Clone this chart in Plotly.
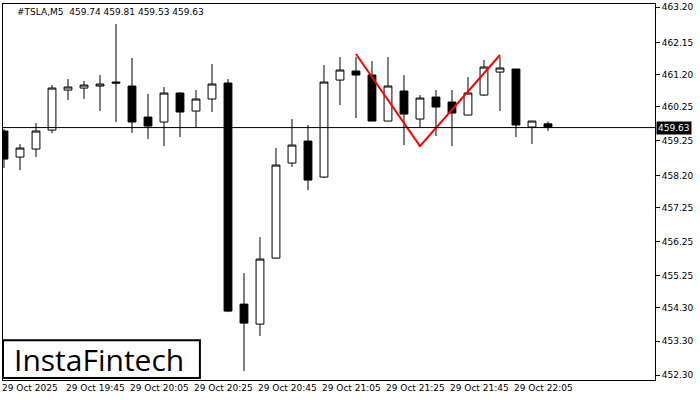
import plotly.graph_objects as go

opens  = [459.527,458.757,458.994,459.556,460.741,460.800,460.860,460.978,460.860,459.941,459.793,460.652,460.119,460.475,460.949,454.402,453.810,455.765,458.579,459.230,458.164,461.037,461.304,461.186,459.823,460.712,459.882,460.534,460.386,460.001,460.593,461.274,461.363,459.645,459.74]
highs  = [459.586,459.142,459.764,460.889,461.067,461.008,461.186,462.696,461.689,460.623,460.830,460.682,460.741,461.511,461.067,455.320,456.387,459.023,459.882,459.705,461.482,461.719,461.719,461.600,461.719,461.186,460.593,460.741,460.741,461.126,461.630,461.719,461.363,459.823,459.81]
lows   = [458.431,458.372,458.757,459.468,460.445,460.475,460.119,459.793,459.468,459.290,459.083,459.349,459.616,460.090,454.165,452.418,453.455,455.736,458.461,457.779,458.135,460.297,459.912,459.823,459.823,459.112,459.616,459.379,459.083,460.001,460.564,460.119,459.349,459.142,459.53]
closes = [458.697,459.023,459.527,460.800,460.830,460.889,460.919,460.949,459.793,459.675,460.652,460.090,460.475,460.919,454.195,453.840,455.736,458.520,459.112,458.075,460.978,461.334,461.186,459.823,460.860,460.030,460.504,460.238,460.060,460.652,461.422,461.393,459.705,459.823,459.63]
x_idx = list(range(len(opens)))
time_labels = ["29 Oct 2025","29 Oct 19:45","29 Oct 20:05","29 Oct 20:25","29 Oct 20:45","29 Oct 21:05","29 Oct 21:25","29 Oct 21:45","29 Oct 22:05"]
time_pos = [0,4,8,12,16,20,24,28,32]
y_ticks = [463.20,462.15,461.20,460.25,459.25,458.20,457.25,456.25,455.25,454.30,453.30,452.30]
pattern_x = [22,26,31]
pattern_y = [461.807,459.083,461.778]
last_price = 459.63
title_text = "#TSLA,M5  459.74 459.81 459.53 459.63"

fig = go.Figure()
fig.add_trace(go.Candlestick(x=x_idx, open=opens, high=highs, low=lows, close=closes,
    increasing=dict(fillcolor="white", line=dict(color="black", width=1)),
    decreasing=dict(fillcolor="black", line=dict(color="black", width=1)),
    whiskerwidth=0, showlegend=False, hoverinfo="skip"))
fig.add_trace(go.Scatter(x=pattern_x, y=pattern_y, mode="lines",
    line=dict(color="red", width=2), showlegend=False, hoverinfo="skip"))
fig.add_hline(y=last_price, line=dict(color="black", width=1))

for p, t in zip(time_pos, time_labels):
    fig.add_annotation(x=p, y=0, xref="x", yref="paper", yanchor="top", xanchor="left",
                       text=t, showarrow=False, font=dict(size=9, color="black"), yshift=-1, xshift=-4)

fig.add_annotation(x=1, y=last_price, xref="paper", yref="y", xanchor="left", text=f"{last_price:.2f}",
                   showarrow=False, bgcolor="black", font=dict(color="white", size=9), borderpad=1, xshift=1)
fig.add_annotation(x=0, y=1, xref="paper", yref="paper", xanchor="left", yanchor="top",
                   text=title_text, showarrow=False, font=dict(size=9, color="black"), xshift=12, yshift=-1)
fig.add_shape(type="rect", xref="paper", yref="paper", x0=0.0, x1=0.302, y0=0.005, y1=0.106,
              line=dict(color="black", width=2), fillcolor="white")
fig.add_annotation(x=0.147, y=0.055, xref="paper", yref="paper", text="InstaFintech", showarrow=False,
                   xanchor="center", yanchor="middle", font=dict(size=30, color="black", family="Open Sans"))

fig.update_layout(width=700, height=400, margin=dict(l=3, r=45, t=4, b=20, autoexpand=False),
    paper_bgcolor="white", plot_bgcolor="white", font=dict(family="DejaVu Sans", size=9, color="black"))
fig.update_xaxes(range=[-0.0625, 40.69], showgrid=False, zeroline=False, showticklabels=False,
    rangeslider=dict(visible=False), showline=True, linecolor="black", mirror=True)
fig.update_yaxes(range=[452.155, 463.289], side="right", tickvals=y_ticks, ticktext=[f"{v:.2f}" for v in y_ticks],
    showgrid=False, zeroline=False, showline=True, linecolor="black", mirror=True,
    ticks="outside", ticklen=4, tickcolor="black", tickfont=dict(size=9))
fig.write_html("out.html", post_script="document.body.style.margin='0';", config={"displayModeBar": False})
